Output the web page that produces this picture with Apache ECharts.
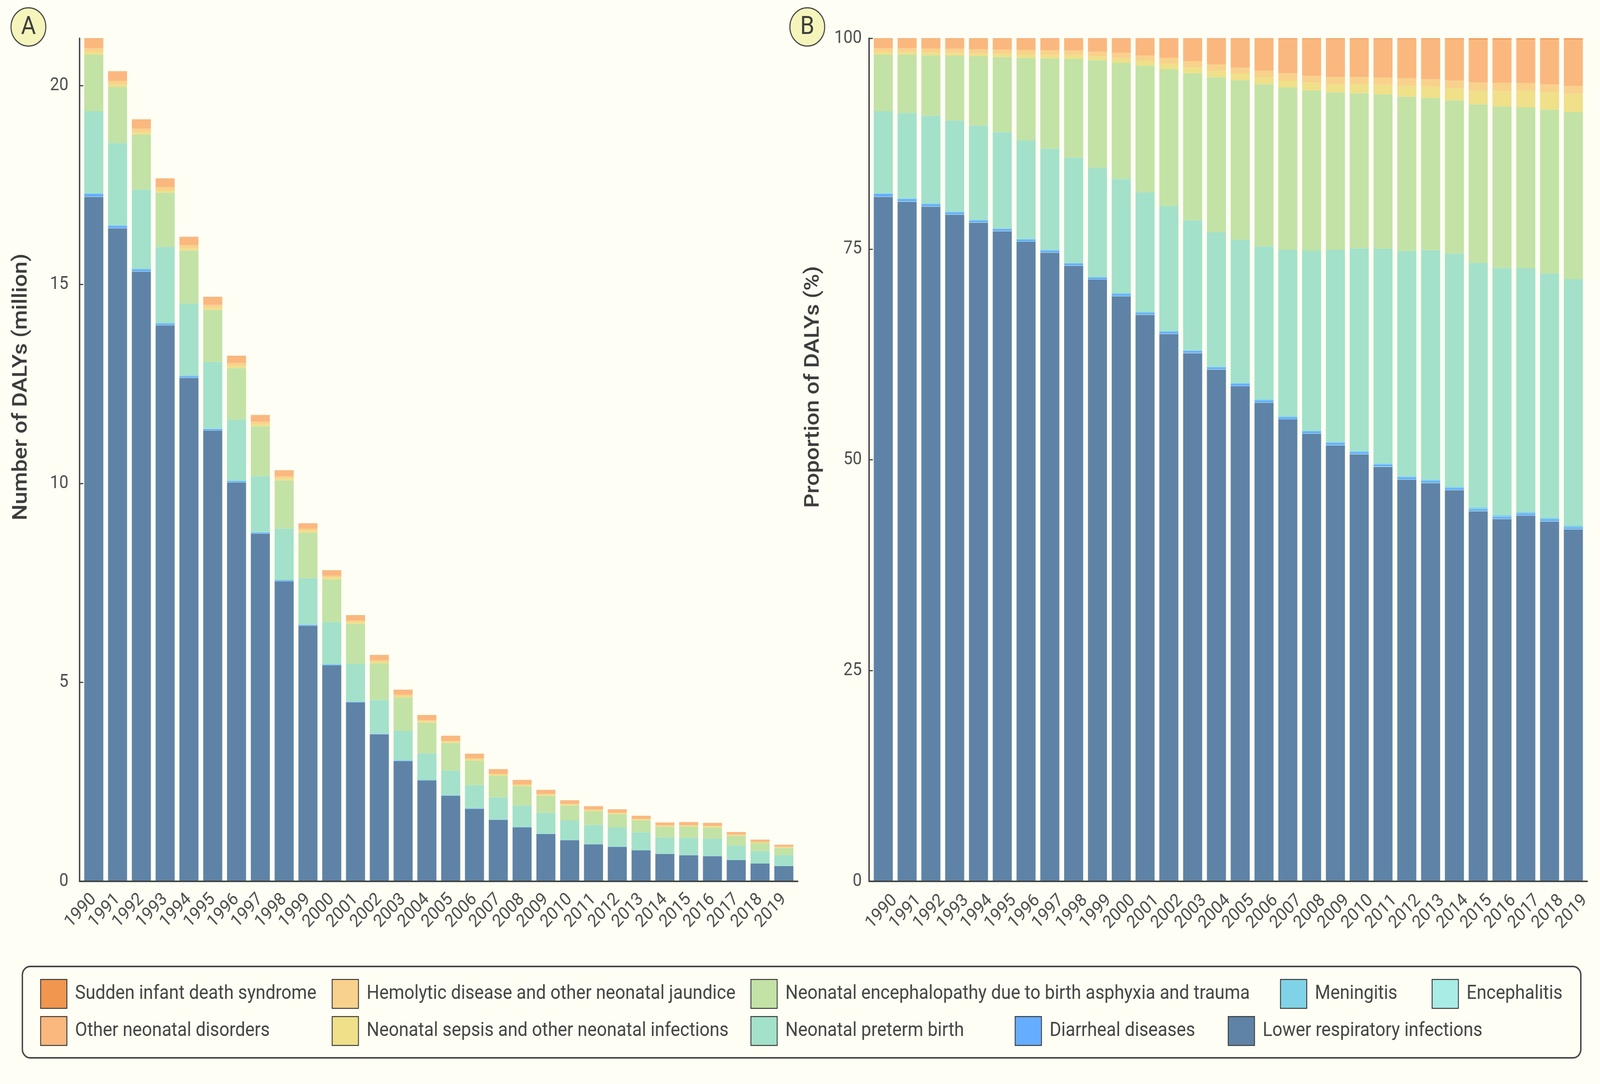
<!DOCTYPE html>
<html>
<head>
<meta charset="utf-8">
<script src="https://cdn.jsdelivr.net/npm/echarts@6/dist/echarts.min.js"></script>
<style>
  html, body { margin: 0; padding: 0; background: #fefef4; overflow: hidden; }
  #main { width: 4505px; height: 2776px; transform-origin: 0 0; }
</style>
</head>
<body>
<div id="main"></div>
<script>
// years on the x axis
const years = ['1990', '1991', '1992', '1993', '1994', '1995', '1996', '1997', '1998', '1999',
  '2000', '2001', '2002', '2003', '2004', '2005', '2006', '2007', '2008', '2009',
  '2010', '2011', '2012', '2013', '2014', '2015', '2016', '2017', '2018', '2019'];

// total DALYs per year (million), panel A bar heights
const totalDalys = [21.19, 20.36, 19.15, 17.67, 16.20, 14.69, 13.21, 11.72, 10.33, 9.00,
  7.82, 6.69, 5.69, 4.82, 4.18, 3.66, 3.21, 2.82, 2.55, 2.30,
  2.04, 1.89, 1.81, 1.65, 1.48, 1.49, 1.47, 1.24, 1.05, 0.92];

// share of DALYs by cause (%), panel B
const shareLRI = [81.18, 80.62, 80.03, 79.08, 78.13, 77.11, 75.87, 74.56, 73.02, 71.37,
  69.40, 67.20, 64.93, 62.65, 60.70, 58.73, 56.77, 54.79, 53.10, 51.71,
  50.65, 49.17, 47.65, 47.23, 46.40, 43.90, 42.97, 43.39, 42.68, 41.74];
const shareEncephalitis = [0.04, 0.04, 0.04, 0.04, 0.04, 0.04, 0.04, 0.04, 0.04, 0.04,
  0.04, 0.04, 0.04, 0.04, 0.04, 0.04, 0.04, 0.04, 0.04, 0.05,
  0.05, 0.05, 0.05, 0.05, 0.05, 0.05, 0.05, 0.05, 0.05, 0.05];
const shareDiarrheal = [0.30, 0.26, 0.26, 0.23, 0.21, 0.23, 0.23, 0.21, 0.21, 0.21,
  0.22, 0.20, 0.20, 0.22, 0.23, 0.24, 0.24, 0.23, 0.22, 0.24,
  0.22, 0.22, 0.23, 0.23, 0.22, 0.21, 0.22, 0.21, 0.21, 0.21];
const shareMeningitis = [0.10, 0.08, 0.08, 0.08, 0.08, 0.08, 0.08, 0.08, 0.08, 0.08,
  0.09, 0.09, 0.09, 0.10, 0.10, 0.11, 0.11, 0.12, 0.11, 0.13,
  0.13, 0.13, 0.14, 0.14, 0.15, 0.20, 0.22, 0.19, 0.19, 0.20];
const sharePreterm = [9.72, 10.14, 10.40, 10.82, 11.19, 11.41, 11.64, 12.02, 12.50, 12.96,
  13.56, 14.18, 14.86, 15.39, 15.91, 16.98, 18.18, 19.71, 21.33, 22.76,
  24.05, 25.47, 26.70, 27.21, 27.64, 28.99, 29.29, 28.88, 28.98, 29.22];
const shareAsphyxia = [6.71, 6.91, 7.18, 7.71, 8.22, 8.89, 9.81, 10.70, 11.70, 12.74,
  13.77, 15.04, 16.22, 17.46, 18.41, 18.93, 19.21, 19.27, 19.03, 18.70,
  18.39, 18.30, 18.30, 18.06, 18.16, 18.81, 19.17, 19.08, 19.42, 19.84];
const shareSepsis = [0.33, 0.30, 0.33, 0.30, 0.30, 0.35, 0.38, 0.41, 0.47, 0.44,
  0.53, 0.56, 0.62, 0.68, 0.74, 0.75, 0.81, 0.84, 0.87, 0.96,
  1.06, 1.12, 1.27, 1.33, 1.42, 1.60, 1.81, 1.96, 2.05, 2.14];
const shareHemolytic = [0.44, 0.47, 0.47, 0.50, 0.53, 0.53, 0.56, 0.56, 0.53, 0.59,
  0.65, 0.65, 0.71, 0.74, 0.77, 0.75, 0.78, 0.84, 0.84, 0.84,
  0.84, 0.87, 0.90, 0.90, 0.93, 0.99, 0.99, 0.93, 0.93, 0.93];
const shareOther = [1.13, 1.13, 1.16, 1.19, 1.25, 1.31, 1.34, 1.37, 1.39, 1.51,
  1.68, 1.98, 2.26, 2.65, 3.02, 3.39, 3.78, 4.07, 4.37, 4.51,
  4.51, 4.57, 4.65, 4.74, 4.91, 5.11, 5.14, 5.16, 5.34, 5.52];
const shareSIDS = [0.05, 0.05, 0.05, 0.05, 0.05, 0.05, 0.05, 0.05, 0.06, 0.06,
  0.06, 0.06, 0.07, 0.07, 0.08, 0.08, 0.08, 0.09, 0.09, 0.10,
  0.10, 0.10, 0.11, 0.11, 0.12, 0.14, 0.14, 0.15, 0.15, 0.15];

// stacking order, bottom first
const causeNames = ['Lower respiratory infections', 'Encephalitis', 'Diarrheal diseases', 'Meningitis',
  'Neonatal preterm birth', 'Neonatal encephalopathy due to birth asphyxia and trauma',
  'Neonatal sepsis and other neonatal infections', 'Hemolytic disease and other neonatal jaundice',
  'Other neonatal disorders', 'Sudden infant death syndrome'];
const causeShares = [shareLRI, shareEncephalitis, shareDiarrheal, shareMeningitis, sharePreterm,
  shareAsphyxia, shareSepsis, shareHemolytic, shareOther, shareSIDS];
const causeColors = ['#5f83a6', '#a9ece6', '#65adff', '#80d3e6', '#a3e1ca',
  '#c3e2a6', '#efe089', '#f8d28c', '#fab87f', '#f0964f'];

const yTicksA = [0, 5, 10, 15, 20];
const yTicksB = [0, 25, 50, 75, 100];

// legend layout: two rows, as in the figure
const legendRows = [
  ['Sudden infant death syndrome', 'Hemolytic disease and other neonatal jaundice',
    'Neonatal encephalopathy due to birth asphyxia and trauma', 'Meningitis', 'Encephalitis'],
  ['Other neonatal disorders', 'Neonatal sepsis and other neonatal infections',
    'Neonatal preterm birth', 'Diarrheal diseases', 'Lower respiratory infections']
];
const legendLeft = [[113, 934, 2113, 3604, 4031], [113, 934, 2113, 2857, 3457]];
const legendTop = [2507, 2602];

const W = 4505, H = 2776;
const FONT = 'Roboto';
const INK = '#444444';
const LABEL = '#4d4d4d';
const BAND = 67;
const gridA = { left: 230.5, top: 98, width: BAND * 30, height: 2159 };
const gridB = { left: 2453.5, top: 98, width: BAND * 30, height: 2159 };
const axisY = gridA.top + gridA.height;

// the figure is laid out at 4505x2776; fit it to whatever window we get
const box = document.getElementById('main');
const sx = window.innerWidth / W, sy = window.innerHeight / H;
if (Math.abs(sx - 1) > 0.001 || Math.abs(sy - 1) > 0.001) {
  box.style.transform = 'scale(' + sx + ',' + sy + ')';
}

const chart = echarts.init(box, null, { renderer: 'canvas' });

function xAxisFor(gi, labelExtra) {
  return {
    type: 'category',
    gridIndex: gi,
    data: years,
    axisLine: { show: true, lineStyle: { color: INK, width: 4 } },
    axisTick: { show: true, inside: true, length: 12, alignWithLabel: true, lineStyle: { color: INK, width: 3 } },
    axisLabel: Object.assign({ interval: 0, rotate: 45, fontSize: 46, color: LABEL, fontFamily: FONT }, labelExtra),
    splitLine: { show: false }
  };
}

function yAxisFor(gi, ticks, max, margin) {
  return {
    type: 'value',
    gridIndex: gi,
    min: 0,
    max: max,
    offset: 7,
    axisLine: { show: true, lineStyle: { color: INK, width: 4 } },
    axisTick: { show: true, inside: true, length: 11, customValues: ticks, lineStyle: { color: INK, width: 3 } },
    axisLabel: { customValues: ticks, margin: margin, fontSize: 46, color: LABEL, fontFamily: FONT },
    splitLine: { show: false }
  };
}

const series = [];
causeNames.forEach((name, i) => {
  series.push({
    name: name,
    type: 'bar',
    stack: 'count',
    xAxisIndex: 0,
    yAxisIndex: 0,
    barCategoryGap: '20%',
    itemStyle: { color: causeColors[i] },
    data: causeShares[i].map((s, k) => +(totalDalys[k] * s / 100).toFixed(4))
  });
});
causeNames.forEach((name, i) => {
  series.push({
    name: name,
    type: 'bar',
    stack: 'share',
    xAxisIndex: 1,
    yAxisIndex: 1,
    barCategoryGap: '20%',
    itemStyle: { color: causeColors[i] },
    data: causeShares[i]
  });
});

const legends = [];
legendRows.forEach((row, r) => {
  row.forEach((name, c) => {
    legends.push({
      data: [name],
      left: legendLeft[r][c],
      top: legendTop[r],
      padding: 0,
      icon: 'rect',
      itemWidth: 74,
      itemHeight: 74,
      itemStyle: { borderColor: '#3a3a3a', borderWidth: 2.5 },
      textStyle: { fontSize: 50, color: INK, fontFamily: FONT, padding: [0, 0, 0, 18] }
    });
  });
});

function panelTag(cx, cy, letter) {
  return {
    type: 'group',
    x: cx,
    y: cy,
    children: [
      { type: 'circle', shape: { cx: 0, cy: 0, r: 49 }, style: { fill: '#f5f5bb', stroke: INK, lineWidth: 3 } },
      { type: 'text', style: { text: letter, x: 0, y: 2, font: '400 64px ' + FONT, fill: '#3d3d3d',
        align: 'center', verticalAlign: 'middle', textAlign: 'center', textVerticalAlign: 'middle' } }
    ]
  };
}

function axisName(x, y, text) {
  return {
    type: 'text',
    x: x,
    y: y,
    rotation: Math.PI / 2,
    style: { text: text, font: '500 58px ' + FONT, fill: '#3d3d3d',
      align: 'center', verticalAlign: 'middle', textAlign: 'center', textVerticalAlign: 'middle' }
  };
}

function baseLine(x1, x2) {
  return { type: 'line', shape: { x1: x1, y1: axisY, x2: x2, y2: axisY },
    style: { stroke: INK, lineWidth: 4 }, z: 10 };
}

chart.setOption({
  backgroundColor: '#fefef4',
  animation: false,
  tooltip: { trigger: 'item' },
  grid: [
    Object.assign({ outerBoundsMode: 'none', containLabel: false }, gridA),
    Object.assign({ outerBoundsMode: 'none', containLabel: false }, gridB)
  ],
  xAxis: [
    xAxisFor(0, { margin: 39 }),
    xAxisFor(1, { margin: 10, verticalAlign: 'top', lineHeight: 90 })
  ],
  yAxis: [
    yAxisFor(0, yTicksA, 'dataMax', 31),
    yAxisFor(1, yTicksB, 100, 20)
  ],
  legend: legends,
  graphic: [
    panelTag(80, 69, 'A'),
    panelTag(2273, 69, 'B'),
    axisName(60, 991, 'Number of DALYs (million)'),
    axisName(2290, 991, 'Proportion of DALYs (%)'),
    baseLine(gridA.left - 8, gridA.left + gridA.width + 7),
    baseLine(gridB.left - 8, gridB.left + gridB.width + 7),
    { type: 'rect', shape: { x: 63, y: 2475, width: 4388, height: 234, r: 22 },
      style: { fill: 'none', stroke: INK, lineWidth: 4 }, z: -1 }
  ],
  series: series
});
</script>
</body>
</html>
